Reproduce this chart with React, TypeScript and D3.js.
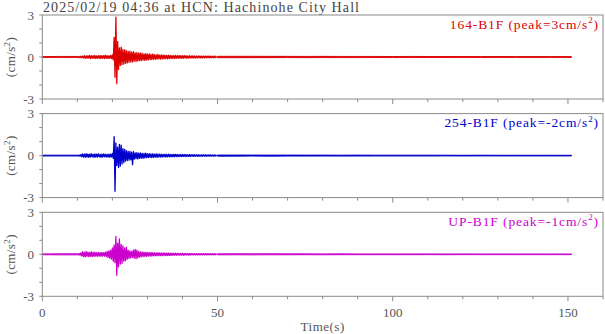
import React from "react";
import * as d3 from "d3";

// ---- data ----
const TITLE = "2025/02/19 04:36 at HCN: Hachinohe City Hall";
const X_TICKS = [0, 50, 100, 150];
const Y_TICKS = [-3, 0, 3];
const END_TIME = 151;

// head: 0..10 s, step 5
const HEAD_START = 0, HEAD_STEP = 5;
// active: 10..50 s, step 0.5
const ACT_START = 10, ACT_STEP = 0.5;
// tail: 50..150 s, step 5
const TAIL_START = 50, TAIL_STEP = 5;

const channels = ["164-B1F", "254-B1F", "UP-B1F"];
const peaks = ["3", "-2", "-1"];
const colors = ["#dd0000", "#0000cc", "#cc00cc"];

const redHeadHi = [0.03, 0.04];
const redHeadLo = [-0.03, -0.03];
const redHi = [
  0.04, 0.04, 0.05, 0.06, 0.1, 0.08, 0.1, 0.12, 0.09, 0.1,
  0.11, 0.08, 0.1, 0.12, 0.09, 0.1, 0.13, 0.1, 0.09, 0.11,
  0.15, 1.4, 2.85, 1.1, 0.65, 0.7, 0.55, 0.5, 0.45, 0.4,
  0.42, 0.35, 0.38, 0.3, 0.32, 0.28, 0.3, 0.25, 0.22, 0.24,
  0.2, 0.22, 0.18, 0.2, 0.17, 0.15, 0.18, 0.14, 0.15, 0.13,
  0.14, 0.12, 0.13, 0.11, 0.12, 0.1, 0.11, 0.1, 0.12, 0.09,
  0.1, 0.09, 0.1, 0.08, 0.09, 0.08, 0.09, 0.07, 0.08, 0.07,
  0.08, 0.06, 0.07, 0.06, 0.07, 0.06, 0.06, 0.05, 0.06, 0.05,
];
const redLo = [
  -0.04, -0.05, -0.05, -0.07, -0.09, -0.1, -0.08, -0.11, -0.1, -0.09,
  -0.12, -0.1, -0.09, -0.11, -0.1, -0.12, -0.09, -0.11, -0.1, -0.12,
  -0.2, -1.45, -1.9, -0.9, -0.6, -0.55, -0.5, -0.45, -0.42, -0.38,
  -0.35, -0.36, -0.3, -0.32, -0.28, -0.26, -0.25, -0.22, -0.24, -0.2,
  -0.21, -0.18, -0.19, -0.16, -0.17, -0.15, -0.14, -0.15, -0.13, -0.14,
  -0.12, -0.13, -0.11, -0.12, -0.1, -0.11, -0.1, -0.09, -0.1, -0.09,
  -0.1, -0.08, -0.09, -0.08, -0.08, -0.07, -0.08, -0.07, -0.07, -0.06,
  -0.07, -0.06, -0.06, -0.06, -0.05, -0.06, -0.05, -0.05, -0.05, -0.05,
];
const redTailHi = [0.05, 0.05, 0.05, 0.045, 0.045, 0.04, 0.045, 0.04, 0.04, 0.04,
  0.035, 0.04, 0.035, 0.035, 0.035, 0.03, 0.035, 0.03, 0.03, 0.03];
const redTailLo = [-0.05, -0.05, -0.045, -0.045, -0.04, -0.045, -0.04, -0.04, -0.04, -0.035,
  -0.04, -0.035, -0.035, -0.035, -0.03, -0.035, -0.03, -0.03, -0.03, -0.03];

const blueHeadHi = [0.03, 0.03];
const blueHeadLo = [-0.03, -0.03];
const blueHi = [
  0.03, 0.04, 0.08, 0.12, 0.1, 0.14, 0.11, 0.1, 0.13, 0.09,
  0.12, 0.1, 0.13, 0.09, 0.1, 0.12, 0.1, 0.08, 0.11, 0.1,
  0.15, 1.35, 0.9, 0.6, 0.8, 0.75, 0.5, 0.45, 0.35, 0.3,
  0.3, 0.25, 0.28, 0.2, 0.22, 0.18, 0.2, 0.16, 0.15, 0.17,
  0.13, 0.14, 0.12, 0.13, 0.11, 0.12, 0.1, 0.11, 0.1, 0.09,
  0.1, 0.09, 0.1, 0.08, 0.09, 0.08, 0.09, 0.08, 0.07, 0.08,
  0.07, 0.08, 0.07, 0.06, 0.07, 0.06, 0.07, 0.06, 0.06, 0.05,
  0.06, 0.05, 0.06, 0.05, 0.05, 0.05, 0.05, 0.04, 0.05, 0.04,
];
const blueLo = [
  -0.03, -0.04, -0.09, -0.1, -0.13, -0.1, -0.12, -0.11, -0.09, -0.12,
  -0.1, -0.11, -0.09, -0.12, -0.1, -0.09, -0.11, -0.1, -0.12, -0.1,
  -0.2, -2.55, -0.7, -0.85, -0.75, -0.6, -0.5, -0.4, -0.35, -0.32,
  -0.3, -0.65, -0.25, -0.22, -0.24, -0.2, -0.18, -0.2, -0.16, -0.15,
  -0.14, -0.13, -0.14, -0.12, -0.11, -0.12, -0.1, -0.11, -0.1, -0.09,
  -0.1, -0.09, -0.08, -0.09, -0.08, -0.08, -0.07, -0.08, -0.07, -0.07,
  -0.06, -0.07, -0.06, -0.06, -0.06, -0.05, -0.06, -0.05, -0.05, -0.05,
  -0.05, -0.05, -0.04, -0.05, -0.04, -0.04, -0.04, -0.04, -0.04, -0.04,
];
const blueTailHi = [0.04, 0.04, 0.04, 0.035, 0.04, 0.035, 0.035, 0.03, 0.035, 0.03,
  0.03, 0.03, 0.03, 0.03, 0.025, 0.03, 0.025, 0.025, 0.025, 0.025];
const blueTailLo = [-0.04, -0.04, -0.035, -0.04, -0.035, -0.035, -0.03, -0.035, -0.03, -0.03,
  -0.03, -0.03, -0.03, -0.025, -0.03, -0.025, -0.025, -0.025, -0.025, -0.025];

const magHeadHi = [0.03, 0.04];
const magHeadLo = [-0.03, -0.04];
const magHi = [
  0.04, 0.05, 0.1, 0.18, 0.15, 0.2, 0.16, 0.14, 0.18, 0.13,
  0.15, 0.12, 0.14, 0.12, 0.13, 0.11, 0.15, 0.2, 0.25, 0.3,
  0.45, 0.65, 1.27, 0.8, 1.1, 0.7, 0.6, 0.45, 0.5, 0.3,
  0.25, 0.2, 0.3, 0.35, 0.3, 0.2, 0.18, 0.15, 0.16, 0.13,
  0.14, 0.12, 0.13, 0.11, 0.12, 0.1, 0.11, 0.1, 0.09, 0.1,
  0.09, 0.08, 0.09, 0.08, 0.08, 0.07, 0.08, 0.07, 0.07, 0.06,
  0.07, 0.06, 0.06, 0.06, 0.05, 0.06, 0.05, 0.05, 0.05, 0.05,
  0.05, 0.04, 0.05, 0.04, 0.05, 0.04, 0.04, 0.04, 0.04, 0.04,
];
const magLo = [
  -0.04, -0.06, -0.12, -0.16, -0.19, -0.15, -0.17, -0.14, -0.16, -0.15,
  -0.13, -0.15, -0.12, -0.14, -0.12, -0.13, -0.16, -0.22, -0.28, -0.35,
  -0.5, -0.6, -1.5, -0.9, -0.7, -0.65, -0.5, -0.45, -0.35, -0.3,
  -0.25, -0.22, -0.28, -0.32, -0.25, -0.2, -0.17, -0.16, -0.14, -0.15,
  -0.13, -0.12, -0.12, -0.11, -0.11, -0.1, -0.1, -0.09, -0.1, -0.09,
  -0.08, -0.09, -0.08, -0.08, -0.07, -0.07, -0.07, -0.06, -0.07, -0.06,
  -0.06, -0.06, -0.05, -0.06, -0.05, -0.05, -0.05, -0.05, -0.04, -0.05,
  -0.04, -0.05, -0.04, -0.04, -0.04, -0.04, -0.04, -0.04, -0.04, -0.04,
];
const magTailHi = [0.04, 0.04, 0.035, 0.04, 0.035, 0.035, 0.03, 0.035, 0.03, 0.03,
  0.03, 0.03, 0.03, 0.025, 0.03, 0.025, 0.025, 0.025, 0.025, 0.025];
const magTailLo = [-0.04, -0.035, -0.04, -0.035, -0.035, -0.03, -0.035, -0.03, -0.03, -0.03,
  -0.03, -0.03, -0.025, -0.03, -0.025, -0.025, -0.025, -0.025, -0.025, -0.025];

const series = [
  { head: [redHeadHi, redHeadLo], act: [redHi, redLo], tail: [redTailHi, redTailLo] },
  { head: [blueHeadHi, blueHeadLo], act: [blueHi, blueLo], tail: [blueTailHi, blueTailLo] },
  { head: [magHeadHi, magHeadLo], act: [magHi, magLo], tail: [magTailHi, magTailLo] },
];

// ---- layout ----
const W = 605, H = 334;
const X0 = 42.3, X1 = 603;
const PANEL_TOPS = [15, 113.6, 212.3];
const PANEL_H = 84;
const FONT = "'Liberation Serif', 'Times New Roman', serif";
const TEXT = "#555";
const FRAME = "#8a8a8a";

type Band = [number, number, number];

function bandPoints(hi: number[], lo: number[], start: number, step: number, end: number): Band[] {
  const pts: Band[] = hi.map((v, i) => [start + i * step, lo[i], v] as Band);
  const last = hi.length - 1;
  pts.push([end, lo[last], hi[last]]);
  return pts;
}

function zigzag(hi: number[], lo: number[], start: number, step: number): [number, number][] {
  const pts: [number, number][] = [];
  hi.forEach((v, i) => {
    const t = start + i * step;
    pts.push([t, v]);
    pts.push([t + step / 2, lo[i]]);
  });
  return pts;
}

export default function App() {
  const x = d3.scaleLinear().domain([0, 160]).range([X0, X1]);
  const minorX = d3.range(0, 161, 10);
  const minorY = d3.range(-3, 4, 1);
  return (
    <svg width={W} height={H} style={{ position: "absolute", left: 0, top: 0 }} fontFamily={FONT}>
      <rect width={W} height={H} fill="#fff" />
      <text x={43} y={11.5} fontSize={14} fill="#444" textLength={316} lengthAdjust="spacing">{TITLE}</text>
      {PANEL_TOPS.map((top, p) => {
        const y = d3.scaleLinear().domain([-3, 3]).range([top + PANEL_H, top]);
        const line = d3.line<[number, number]>().x((d) => x(d[0])).y((d) => y(d[1]));
        const area = d3.area<Band>().x((d) => x(d[0])).y0((d) => y(d[1])).y1((d) => y(d[2]));
        const s = series[p];
        const head = bandPoints(s.head[0], s.head[1], HEAD_START, HEAD_STEP, ACT_START);
        const act = zigzag(s.act[0], s.act[1], ACT_START, ACT_STEP);
        const tail = bandPoints(s.tail[0], s.tail[1], TAIL_START, TAIL_STEP, END_TIME);
        const bottom = top + PANEL_H;
        return (
          <g key={p}>
            <path d={area(head) || ""} fill={colors[p]} stroke={colors[p]} strokeWidth={0.9} />
            <path d={line(act) || ""} fill="none" stroke={colors[p]} strokeWidth={1.3} strokeLinejoin="round" />
            <path d={area(tail) || ""} fill={colors[p]} stroke={colors[p]} strokeWidth={0.9} />
            <rect x={X0} y={top} width={X1 - X0} height={PANEL_H} fill="none" stroke={FRAME} strokeWidth={1} />
            {minorY.map((v) => (
              <line key={v} x1={X0 - 3} x2={X0} y1={y(v)} y2={y(v)} stroke={FRAME} />
            ))}
            {minorX.map((v) => (
              <line key={v} x1={x(v)} x2={x(v)} y1={bottom} y2={bottom + (v % 50 === 0 ? 5 : 3)} stroke={FRAME} />
            ))}
            {Y_TICKS.map((v) => (
              <text key={v} x={34} y={y(v) + 4.5} fontSize={13} fill={TEXT} textAnchor="end">{v}</text>
            ))}
            <text transform={`translate(15,${top + PANEL_H / 2}) rotate(-90)`} fontSize={13} fill={TEXT} textAnchor="middle" letterSpacing={0.4}>
              (cm/s<tspan dy={-5} fontSize={9}>2</tspan><tspan dy={5}>)</tspan>
            </text>
            <text x={599} y={top + 13.5} fontSize={13.5} fill={colors[p]} textAnchor="end" letterSpacing={0.9}>
              {channels[p]} (peak={peaks[p]}cm/s<tspan dy={-5.5} fontSize={9}>2</tspan><tspan dy={5.5}>)</tspan>
            </text>
          </g>
        );
      })}
      {X_TICKS.map((v) => (
        <text key={v} x={x(v)} y={317} fontSize={13} fill={TEXT} textAnchor="middle">{v}</text>
      ))}
      <text x={x(80)} y={331} fontSize={13} fill={TEXT} textAnchor="middle" letterSpacing={0.5}>Time(s)</text>
    </svg>
  );
}
